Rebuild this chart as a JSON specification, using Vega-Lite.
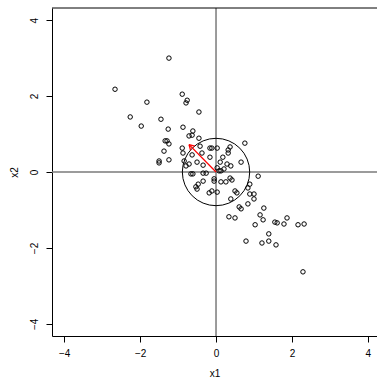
{
  "$schema": "https://vega.github.io/schema/vega-lite/v6.json",
  "width": 325,
  "height": 328,
  "autosize": {"type": "none"},
  "padding": {"left": 52, "top": 8, "right": 0, "bottom": 45},
  "background": "white",
  "config": {
    "view": {"stroke": null},
    "font": "Liberation Sans",
    "axis": {
      "grid": false,
      "domainColor": "black",
      "tickColor": "black",
      "labelColor": "black",
      "titleColor": "black",
      "labelFont": "Liberation Sans",
      "titleFont": "Liberation Sans",
      "labelFontSize": 10,
      "titleFontSize": 10,
      "titleFontWeight": "normal",
      "tickSize": 6
    }
  },
  "datasets": {
    "pts": [
      {"x1": -1.24, "x2": 3.00}, {"x1": -2.66, "x2": 2.18}, {"x1": -0.89, "x2": 2.05},
      {"x1": -0.76, "x2": 1.89}, {"x1": -0.79, "x2": 1.82}, {"x1": -1.82, "x2": 1.84},
      {"x1": -0.45, "x2": 1.58}, {"x1": -2.26, "x2": 1.45}, {"x1": -1.45, "x2": 1.39},
      {"x1": -1.97, "x2": 1.21}, {"x1": -1.26, "x2": 1.13}, {"x1": -0.87, "x2": 1.18},
      {"x1": -0.61, "x2": 1.08}, {"x1": -0.71, "x2": 0.95}, {"x1": -0.63, "x2": 0.97},
      {"x1": -0.45, "x2": 0.89}, {"x1": -1.34, "x2": 0.82}, {"x1": -1.29, "x2": 0.82},
      {"x1": -1.24, "x2": 0.74}, {"x1": -0.89, "x2": 0.63}, {"x1": -0.87, "x2": 0.50},
      {"x1": -1.37, "x2": 0.55}, {"x1": -1.50, "x2": 0.29}, {"x1": -1.50, "x2": 0.24},
      {"x1": -1.24, "x2": 0.32}, {"x1": -0.84, "x2": 0.29}, {"x1": -0.79, "x2": 0.16},
      {"x1": -0.71, "x2": 0.21}, {"x1": -0.63, "x2": 0.45}, {"x1": -0.50, "x2": 0.26},
      {"x1": -0.42, "x2": 0.68}, {"x1": -0.37, "x2": 0.50}, {"x1": -0.34, "x2": 0.18},
      {"x1": -0.16, "x2": 0.63}, {"x1": -0.11, "x2": 0.63}, {"x1": -0.16, "x2": 0.39},
      {"x1": -0.66, "x2": -0.05}, {"x1": -0.61, "x2": -0.05}, {"x1": -0.34, "x2": -0.03},
      {"x1": -0.26, "x2": -0.03}, {"x1": -0.34, "x2": -0.24}, {"x1": -0.53, "x2": -0.39},
      {"x1": -0.50, "x2": -0.45}, {"x1": -0.47, "x2": -0.32}, {"x1": -0.05, "x2": -0.18},
      {"x1": -0.05, "x2": -0.24}, {"x1": -0.18, "x2": -0.55}, {"x1": -0.11, "x2": -0.50},
      {"x1": 0.03, "x2": 0.11}, {"x1": 0.76, "x2": 0.76}, {"x1": 0.37, "x2": 0.66},
      {"x1": 0.32, "x2": 0.58}, {"x1": 0.32, "x2": 0.50}, {"x1": 0.03, "x2": 0.63},
      {"x1": 0.18, "x2": 0.39}, {"x1": 0.11, "x2": 0.26}, {"x1": 0.29, "x2": 0.21},
      {"x1": 0.39, "x2": 0.16}, {"x1": 0.66, "x2": 0.26}, {"x1": 0.21, "x2": 0.08},
      {"x1": 0.08, "x2": 0.03}, {"x1": 0.13, "x2": 0.03}, {"x1": 1.11, "x2": -0.11},
      {"x1": 0.13, "x2": -0.26}, {"x1": 0.26, "x2": -0.26}, {"x1": 0.37, "x2": -0.16},
      {"x1": 0.42, "x2": -0.21}, {"x1": 0.89, "x2": -0.32}, {"x1": 0.84, "x2": -0.42},
      {"x1": 1.00, "x2": -0.58}, {"x1": 0.89, "x2": -0.58}, {"x1": 1.00, "x2": -0.71},
      {"x1": 0.84, "x2": -0.84}, {"x1": 0.50, "x2": -0.50}, {"x1": 0.55, "x2": -0.55},
      {"x1": 0.39, "x2": -0.71}, {"x1": 0.03, "x2": -0.53}, {"x1": 0.61, "x2": -0.92},
      {"x1": 0.66, "x2": -0.97}, {"x1": 1.26, "x2": -0.95}, {"x1": 0.34, "x2": -1.18},
      {"x1": 0.50, "x2": -1.21}, {"x1": 1.16, "x2": -1.13}, {"x1": 1.24, "x2": -1.26},
      {"x1": 1.87, "x2": -1.21}, {"x1": 1.79, "x2": -1.37}, {"x1": 1.55, "x2": -1.32},
      {"x1": 1.61, "x2": -1.34}, {"x1": 1.03, "x2": -1.39}, {"x1": 2.16, "x2": -1.39},
      {"x1": 2.32, "x2": -1.37}, {"x1": 1.39, "x2": -1.63}, {"x1": 0.79, "x2": -1.82},
      {"x1": 1.21, "x2": -1.87}, {"x1": 1.39, "x2": -1.82}, {"x1": 1.58, "x2": -1.92},
      {"x1": 2.29, "x2": -2.63}
    ],
    "arrow": [
      {"x1": 0, "x2": 0, "xe": -0.71, "ye": 0.72},
      {"x1": -0.71, "x2": 0.72, "xe": -0.56, "ye": 0.68},
      {"x1": -0.71, "x2": 0.72, "xe": -0.67, "ye": 0.57}
    ]
  },
  "layer": [
    {
      "data": {"values": [{"v": 0}]},
      "mark": {"type": "rule", "color": "#7a7a7a", "strokeWidth": 1.5},
      "encoding": {"x": {"field": "v", "type": "quantitative", "scale": {"domain": [-4.32, 4.24], "nice": false, "zero": false}, "axis": {"title": "x1", "values": [-4, -2, 0, 2, 4], "labelPadding": 6, "titlePadding": 10}}}
    },
    {
      "data": {"values": [{"v": 0}]},
      "mark": {"type": "rule", "color": "#7a7a7a", "strokeWidth": 1.5},
      "encoding": {"y": {"field": "v", "type": "quantitative", "scale": {"domain": [-4.32, 4.32], "nice": false, "zero": false}, "axis": {"title": "x2", "values": [-4, -2, 0, 2, 4], "labelAngle": -90, "labelAlign": "center", "labelBaseline": "bottom", "labelPadding": 7, "titlePadding": 10}}}
    },
    {
      "data": {"values": [{"v": 4.32}]},
      "mark": {"type": "rule", "color": "black", "strokeWidth": 1},
      "encoding": {"y": {"field": "v", "type": "quantitative"}}
    },
    {
      "data": {"values": [{"cx": 0, "cy": 0}]},
      "mark": {"type": "point", "shape": "circle", "filled": false, "stroke": "black", "strokeWidth": 1, "size": 4536, "opacity": 1},
      "encoding": {
        "x": {"field": "cx", "type": "quantitative"},
        "y": {"field": "cy", "type": "quantitative"}
      }
    },
    {
      "data": {"name": "pts"},
      "mark": {"type": "point", "shape": "circle", "filled": false, "stroke": "black", "strokeWidth": 1, "size": 20, "opacity": 1},
      "encoding": {
        "x": {"field": "x1", "type": "quantitative"},
        "y": {"field": "x2", "type": "quantitative"}
      }
    },
    {
      "data": {"name": "arrow"},
      "mark": {"type": "rule", "color": "red", "strokeWidth": 1.3},
      "encoding": {
        "x": {"field": "x1", "type": "quantitative"},
        "y": {"field": "x2", "type": "quantitative"},
        "x2": {"field": "xe"},
        "y2": {"field": "ye"}
      }
    }
  ]
}
